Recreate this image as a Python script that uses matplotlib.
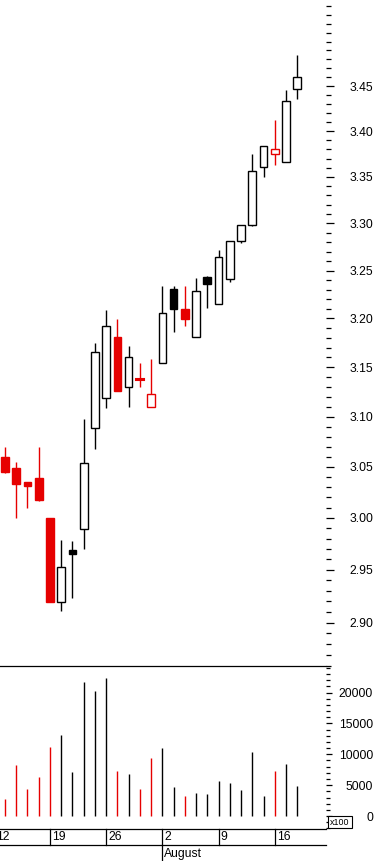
import numpy as np
import matplotlib
matplotlib.use('Agg')
import matplotlib.pyplot as plt
from matplotlib.ticker import FixedLocator, NullFormatter, FixedFormatter, NullLocator
from matplotlib.patches import Rectangle
import matplotlib.transforms as mtransforms

plt.rcParams['font.family'] = ['Liberation Sans', 'DejaVu Sans']

# ---------------- data ----------------
dates = ['2010-07-13', '2010-07-14', '2010-07-15', '2010-07-16',
         '2010-07-19', '2010-07-20', '2010-07-21', '2010-07-22', '2010-07-23',
         '2010-07-26', '2010-07-27', '2010-07-28', '2010-07-29', '2010-07-30',
         '2010-08-02', '2010-08-03', '2010-08-04', '2010-08-05', '2010-08-06',
         '2010-08-09', '2010-08-10', '2010-08-11', '2010-08-12', '2010-08-13',
         '2010-08-16', '2010-08-17', '2010-08-18']
opens = [3.060, 3.049, 3.035, 3.039, 3.000, 2.919, 2.969, 2.989, 3.089,
         3.119, 3.181, 3.130, 3.1375, 3.110, 3.154, 3.231, 3.2095, 3.1805,
         3.243, 3.2147, 3.241, 3.281, 3.298, 3.3604, 3.3746, 3.366, 3.447]
highs = [3.070, 3.055, 3.035, 3.070, 3.000, 2.979, 2.978, 3.0975, 3.175,
         3.209, 3.199, 3.172, 3.154, 3.158, 3.234, 3.234, 3.234, 3.242,
         3.244, 3.2717, 3.281, 3.298, 3.375, 3.3835, 3.412, 3.446, 3.485]
lows = [3.044, 3.000, 3.010, 3.016, 2.919, 2.911, 2.9235, 2.970, 3.068,
        3.109, 3.126, 3.110, 3.130, 3.110, 3.154, 3.186, 3.1925, 3.1805,
        3.211, 3.2147, 3.238, 3.2795, 3.297, 3.350, 3.363, 3.366, 3.436]
closes = [3.045, 3.033, 3.031, 3.017, 2.919, 2.953, 2.965, 3.0535, 3.165,
          3.192, 3.126, 3.160, 3.137, 3.123, 3.206, 3.210, 3.199, 3.229,
          3.236, 3.264, 3.281, 3.298, 3.356, 3.3835, 3.380, 3.433, 3.460]
prev_close_first = 3.065
volumes = [2800, 8300, 4400, 6400, 11250, 13050, 7200, 21700, 20200,
           22350, 7350, 6850, 4400, 9450, 11100, 4750, 3250, 3750,
           3600, 5700, 5400, 4250, 10450, 3250, 7350, 8500, 4900]  # x100

price_ticks = [2.90, 2.95, 3.00, 3.05, 3.10, 3.15, 3.20, 3.25, 3.30, 3.35, 3.40, 3.45]
price_tick_labels = ['2.90', '2.95', '3.00', '3.05', '3.10', '3.15', '3.20',
                     '3.25', '3.30', '3.35', '3.40', '3.45']
volume_ticks = [0, 5000, 10000, 15000, 20000]
volume_tick_labels = ['0', '5000', '10000', '15000', '20000']
week_starts = ['2010-07-12', '2010-07-19', '2010-07-26', '2010-08-02', '2010-08-09', '2010-08-16']
week_labels = ['12', '19', '26', '2', '9', '16']
month_starts = ['2010-08-02']
month_labels = ['August']
volume_unit = 'x100'

# ---------------- derived ----------------
RED = '#E60000'
BLACK = '#000000'
o = np.array(opens); h = np.array(highs); l = np.array(lows); c = np.array(closes)
v = np.array(volumes)
x = np.array([np.busday_count(dates[0], d) for d in dates])
prev = np.concatenate([[prev_close_first], c[:-1]])
is_red = c < prev
filled = c < o
colors = np.where(is_red, RED, BLACK)

W, H = 377, 861
fig = plt.figure(figsize=(W / 100, H / 100), dpi=100)
fig.patch.set_facecolor('white')

def fx(px):
    return px / W

def fy(py):
    return 1 - py / H

RIGHT = 326
ax = fig.add_axes([0, fy(666), fx(RIGHT), 666 / H])
axv = fig.add_axes([0, fy(829), fx(RIGHT), (829 - 666) / H])
axd = fig.add_axes([0, 0, fx(RIGHT), (861 - 829) / H])

xlim = (-5 / 11.24, (RIGHT - 5) / 11.24)

# ---------------- price panel ----------------
ax.set_yscale('log')
ax.set_xlim(*xlim)
ax.set_ylim(2.8596, 3.5474)
for s in ax.spines.values():
    s.set_visible(False)
ax.xaxis.set_major_locator(NullLocator())
ax.xaxis.set_minor_locator(NullLocator())
ax.yaxis.tick_right()
ax.yaxis.set_major_locator(FixedLocator(price_ticks))
ax.yaxis.set_major_formatter(FixedFormatter(price_tick_labels))
minors = [round(t, 2) for t in np.arange(2.86, 3.545, 0.01)
          if all(abs(t - p) > 1e-6 for p in price_ticks)]
ax.yaxis.set_minor_locator(FixedLocator(minors))
ax.yaxis.set_minor_formatter(NullFormatter())
ax.tick_params(axis='y', which='major', direction='out', length=5.8, width=0.9,
               pad=10.8, labelsize=8.7, colors='black')
ax.tick_params(axis='y', which='minor', direction='out', length=3.4, width=0.9)

bw = 0.68
ax.vlines(x, l, h, colors=colors, linewidth=1.0, zorder=1)
for i in range(len(x)):
    bottom = min(o[i], c[i])
    height = abs(c[i] - o[i])
    face = colors[i] if filled[i] else 'white'
    ax.bar(x[i], height, width=bw, bottom=bottom, color=face,
           edgecolor=colors[i], linewidth=1.0 if height > 0.001 else 1.5, zorder=2)

# ---------------- volume panel ----------------
axv.set_xlim(*xlim)
axv.set_ylim(-2100, 24300)
for side in ['left', 'right']:
    axv.spines[side].set_visible(False)
for side in ['top', 'bottom']:
    axv.spines[side].set_linewidth(0.9)
axv.xaxis.set_major_locator(NullLocator())
axv.xaxis.set_minor_locator(NullLocator())
axv.yaxis.tick_right()
axv.yaxis.set_major_locator(FixedLocator(volume_ticks))
axv.yaxis.set_major_formatter(FixedFormatter(volume_tick_labels))
axv.yaxis.set_minor_locator(FixedLocator([t for t in range(-2000, 24001, 1000)
                                          if t not in volume_ticks]))
axv.yaxis.set_minor_formatter(NullFormatter())
axv.tick_params(axis='y', which='major', direction='out', length=4.3, width=0.9,
                pad=29.5, labelsize=8.7)
axv.tick_params(axis='y', which='minor', direction='out', length=3.2, width=0.9)
for t in axv.get_yticklabels():
    t.set_horizontalalignment('right')
axv.vlines(x, 0, v, colors=colors, linewidth=1.0)

# x100 box
fig.patches.append(Rectangle((fx(328), fy(828)), fx(352) - fx(328), (828 - 816) / H,
                             transform=fig.transFigure, facecolor='white',
                             edgecolor='black', linewidth=0.8))
fig.text(fx(340), fy(822.3), volume_unit, ha='center', va='center', fontsize=6.4)

# ---------------- date strip ----------------
axd.set_xlim(*xlim)
axd.set_ylim(0, 32)
axd.axis('off')
axd.plot([xlim[0], xlim[1]], [16, 16], color='black', linewidth=0.9, clip_on=False)
off = mtransforms.offset_copy(axd.transData, fig=fig, x=2.0, y=0, units='dots')
for d, lab in zip(week_starts, week_labels):
    xp = np.busday_count(dates[0], d)
    axd.plot([xp, xp], [16, 32], color='black', linewidth=0.9, clip_on=False)
    axd.text(xp, 24, lab, transform=off, ha='left', va='center', fontsize=8.7,
             clip_on=False)
for d, lab in zip(month_starts, month_labels):
    xp = np.busday_count(dates[0], d)
    axd.plot([xp, xp], [0, 16], color='black', linewidth=0.9, clip_on=False)
    axd.text(xp, 7, lab, transform=off, ha='left', va='center', fontsize=8.7,
             clip_on=False)

fig.savefig('out.png', dpi=100, facecolor='white')
